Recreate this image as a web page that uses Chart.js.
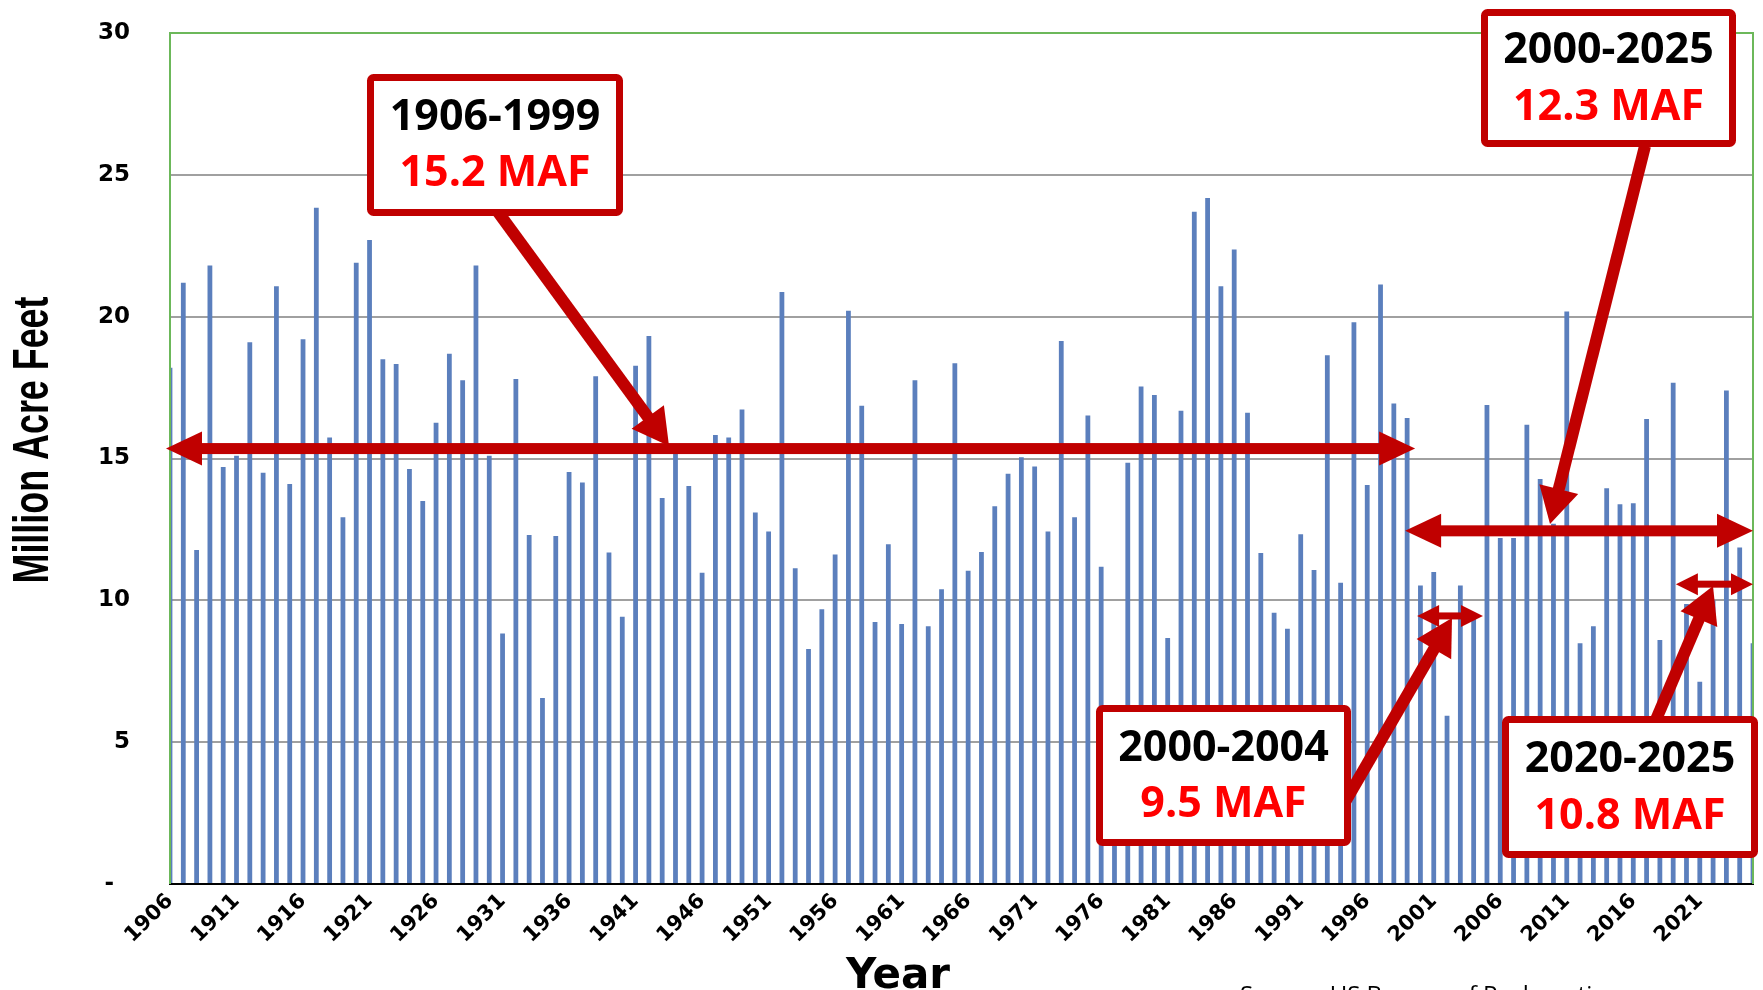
<!DOCTYPE html>
<html>
<head>
<meta charset="utf-8">
<script src="https://cdn.jsdelivr.net/npm/chart.js@4.4.1/dist/chart.umd.min.js"></script>
<style>
    body { margin: 0; background: #fff; }
    .wrap { width: 1763px; height: 990px; position: relative; }
</style>
</head>
<body>
<div class="wrap"><canvas id="myChart"></canvas></div>
<script>
    /*数据*/
    var years = [];
    for (var yr = 1906; yr <= 2025; yr++) { years.push(String(yr)); }
    var flows = [
        18.2, 21.2, 11.77, 21.8, 14.7, 15.1, 19.1, 14.5, 21.07, 14.1,
        19.2, 23.84, 15.74, 12.93, 21.9, 22.7, 18.5, 18.33, 14.63, 13.5,
        16.26, 18.69, 17.76, 21.8, 15.1, 8.83, 17.8, 12.3, 6.56, 12.27,
        14.52, 14.15, 17.9, 11.69, 9.42, 18.27, 19.32, 13.61, 15.2, 14.03,
        10.97, 15.83, 15.74, 16.73, 13.1, 12.43, 20.87, 11.13, 8.28, 9.69,
        11.62, 20.21, 16.86, 9.24, 11.98, 9.17, 17.76, 9.09, 10.39, 18.36,
        11.04, 11.7, 13.32, 14.46, 15.04, 14.72, 12.43, 19.14, 12.93, 16.52,
        11.18, 5.5, 14.85, 17.54, 17.24, 8.67, 16.68, 23.7, 24.18, 21.07,
        22.37, 16.61, 11.67, 9.56, 9.0, 12.33, 11.07, 18.64, 10.62, 19.8,
        14.07, 21.13, 16.94, 16.43, 10.52, 11.0, 5.93, 10.52, 9.4, 16.89,
        12.2, 12.2, 16.19, 14.28, 12.7, 20.18, 8.49, 9.09, 13.95, 13.39,
        13.42, 16.39, 8.6, 17.67, 9.87, 7.13, 10.0, 17.4, 11.86, 8.49
    ];
    var yTicks = [0, 5, 10, 15, 20, 25, 30];
    var periods = ['1906-1999', '2000-2025', '2000-2004', '2020-2025'];
    var averages = ['15.2 MAF', '12.3 MAF', '9.5 MAF', '10.8 MAF'];

    var RED = '#c00000';

    function dblArrow(ctx, x1, x2, yy, w, hl, hw) {
        ctx.fillStyle = RED;
        ctx.fillRect(x1 + hl - 1, yy - w / 2, x2 - x1 - 2 * hl + 2, w);
        ctx.beginPath();
        ctx.moveTo(x1, yy); ctx.lineTo(x1 + hl, yy - hw); ctx.lineTo(x1 + hl, yy + hw);
        ctx.closePath(); ctx.fill();
        ctx.beginPath();
        ctx.moveTo(x2, yy); ctx.lineTo(x2 - hl, yy - hw); ctx.lineTo(x2 - hl, yy + hw);
        ctx.closePath(); ctx.fill();
    }

    function pointer(ctx, x1, y1, x2, y2, w, hl, hw) {
        var ang = Math.atan2(y2 - y1, x2 - x1);
        var bx = x2 - Math.cos(ang) * hl, by = y2 - Math.sin(ang) * hl;
        ctx.strokeStyle = RED; ctx.fillStyle = RED;
        ctx.lineWidth = w; ctx.lineCap = 'butt';
        ctx.beginPath(); ctx.moveTo(x1, y1); ctx.lineTo(bx + Math.cos(ang) * 2, by + Math.sin(ang) * 2); ctx.stroke();
        var px = -Math.sin(ang) * hw, py = Math.cos(ang) * hw;
        ctx.beginPath();
        ctx.moveTo(x2, y2); ctx.lineTo(bx + px, by + py); ctx.lineTo(bx - px, by - py);
        ctx.closePath(); ctx.fill();
    }

    function box(ctx, l, t, r, b, top, bottom, y1, y2) {
        ctx.fillStyle = '#fff';
        ctx.strokeStyle = RED;
        ctx.lineWidth = 7;
        ctx.beginPath();
        ctx.roundRect(l + 3.5, t + 3.5, r - l - 7, b - t - 7, 3);
        ctx.fill(); ctx.stroke();
        var cx = (l + r) / 2;
        ctx.font = 'bold 43px "Open Sans"';
        ctx.textAlign = 'center';
        ctx.textBaseline = 'middle';
        ctx.fillStyle = '#000';
        ctx.fillText(top, cx, y1);
        ctx.fillStyle = '#ff0000';
        ctx.fillText(bottom, cx, y2);
    }

    var overlay = {
        id: 'overlay',
        afterDatasetsDraw: function(chart) {
            var ctx = chart.ctx, a = chart.chartArea;
            var xs = chart.scales.x, ys = chart.scales.y;
            ctx.save();
            /*绿色边框*/
            ctx.strokeStyle = '#6cb85a';
            ctx.lineWidth = 2;
            ctx.beginPath();
            ctx.moveTo(a.left, a.bottom); ctx.lineTo(a.left, a.top);
            ctx.lineTo(a.right, a.top); ctx.lineTo(a.right, a.bottom);
            ctx.stroke();

            /*箭头*/
            dblArrow(ctx, xs.getPixelForValue(-0.3), xs.getPixelForValue(93.6), ys.getPixelForValue(15.35), 11, 36, 17);
            dblArrow(ctx, xs.getPixelForValue(92.85), a.right, ys.getPixelForValue(12.45), 11, 36, 17);
            dblArrow(ctx, xs.getPixelForValue(93.75), xs.getPixelForValue(98.7), ys.getPixelForValue(9.45), 7, 22, 11);
            dblArrow(ctx, xs.getPixelForValue(113.2), a.right, ys.getPixelForValue(10.57), 7, 22, 11);

            pointer(ctx, 498, 212, 669, 446, 12, 36, 20);
            pointer(ctx, 1645, 146, 1550, 524, 12, 36, 20);
            pointer(ctx, 1345, 802, 1452, 618, 12, 36, 20);
            pointer(ctx, 1655, 722, 1713, 586, 12, 36, 20);

            /*方框*/
            box(ctx, 367, 74, 623, 216, periods[0], averages[0], 118, 174);
            box(ctx, 1481, 9, 1736, 147, periods[1], averages[1], 51, 108);
            box(ctx, 1096, 705, 1351, 846, periods[2], averages[2], 749, 805);
            box(ctx, 1502, 716, 1758, 858, periods[3], averages[3], 760, 817);

            /*坐标轴标题*/
            ctx.fillStyle = '#000';
            ctx.save();
            ctx.translate(34, 440);
            ctx.rotate(-Math.PI / 2);
            ctx.font = 'bold 50px "Liberation Sans"';
            var tw = ctx.measureText('Million Acre Feet').width;
            ctx.scale(287 / tw, 1);
            ctx.textAlign = 'center';
            ctx.textBaseline = 'middle';
            ctx.fillText('Million Acre Feet', 0, 0);
            ctx.restore();

            ctx.font = 'bold 42px "DejaVu Sans"';
            ctx.textAlign = 'center';
            ctx.textBaseline = 'alphabetic';
            ctx.fillText('Year', 898, 988);

            ctx.font = '24px "Open Sans"';
            ctx.textAlign = 'left';
            ctx.fillText('Source: US Bureau of Reclamation', 1240, 1003);
            ctx.restore();
        }
    };

    /*绘图*/
    var ctx = document.getElementById("myChart").getContext('2d');
    var myChart = new Chart(ctx, {
        type: 'bar',
        data: {
            labels: years,
            datasets: [{
                data: flows,
                backgroundColor: '#5b7fbd',
                borderWidth: 0,
                barPercentage: 0.36,
                categoryPercentage: 1
            }]
        },
        options: {
            responsive: true,
            maintainAspectRatio: false,
            animation: false,
            layout: {
                padding: { left: 0, right: 10, top: 33, bottom: 0 }
            },
            plugins: {
                legend: { display: false },
                tooltip: { enabled: false }
            },
            scales: {
                x: {
                    offset: false,
                    grid: { display: false, drawTicks: false },
                    border: { color: '#000', width: 2 },
                    ticks: {
                        autoSkip: false,
                        maxRotation: 45,
                        minRotation: 45,
                        padding: 5,
                        color: '#000',
                        font: { family: 'DejaVu Sans', weight: 'bold', size: 21 },
                        callback: function(v, i) { return i % 5 === 0 ? years[i] : ''; }
                    },
                    afterFit: function(scale) {
                        scale.height = 106;
                        scale.paddingLeft = 0;
                        scale.paddingRight = 0;
                    }
                },
                y: {
                    min: 0,
                    max: 30,
                    afterBuildTicks: function(scale) {
                        scale.ticks = yTicks.map(function(v) { return { value: v }; });
                    },
                    grid: {
                        drawTicks: false,
                        lineWidth: 2,
                        color: function(c) { return c.tick && c.tick.value === 0 ? 'rgba(0,0,0,0)' : '#a0a0a0'; }
                    },
                    border: { display: false },
                    ticks: {
                        padding: 40,
                        color: '#000',
                        font: { family: 'DejaVu Sans', weight: 'bold', size: 23 },
                        callback: function(v) { return v === 0 ? '-  ' : v; }
                    },
                    afterFit: function(scale) {
                        scale.width = 170;
                        scale.paddingTop = 0;
                        scale.paddingBottom = 0;
                    }
                }
            }
        },
        plugins: [overlay]
    });
</script>
</body>
</html>
